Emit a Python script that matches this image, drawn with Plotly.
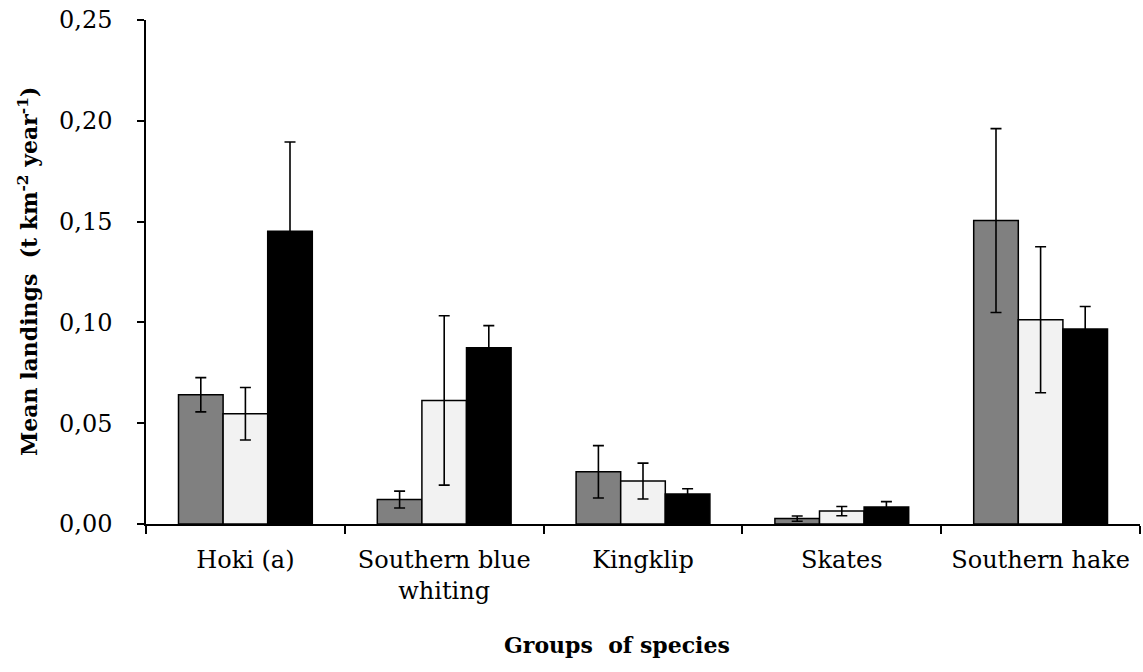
import plotly.graph_objects as go

categories = ["Hoki (a)", "Southern blue<br>whiting", "Kingklip", "Skates", "Southern hake"]

series_names = ["Series 1", "Series 2", "Series 3"]
values_1 = [0.0641, 0.0121, 0.0259, 0.0027, 0.1505]
errors_1 = [0.0085, 0.0042, 0.0130, 0.0013, 0.0456]
values_2 = [0.0547, 0.0613, 0.0213, 0.0064, 0.1013]
errors_2 = [0.0130, 0.0420, 0.0089, 0.0023, 0.0362]
values_3 = [0.1452, 0.0874, 0.0149, 0.0084, 0.0967]
errors_3 = [0.0443, 0.0110, 0.0026, 0.0027, 0.0112]

y_ticks = [0.0, 0.05, 0.10, 0.15, 0.20, 0.25]

colors = ["#808080", "#F2F2F2", "#000000"]
FONT = "DejaVu Serif"

fig = go.Figure()
for name, vals, errs, col in zip(series_names,
                                 [values_1, values_2, values_3],
                                 [errors_1, errors_2, errors_3],
                                 colors):
    fig.add_trace(go.Bar(
        x=categories, y=vals, name=name,
        marker=dict(color=col, line=dict(color="black", width=1.5)),
        error_y=dict(type="data", array=errs, visible=True,
                     color="black", thickness=1.6, width=5.5),
    ))

fig.update_layout(
    width=1143, height=672,
    margin=dict(l=146, r=3, t=20, b=148),
    paper_bgcolor="white", plot_bgcolor="white",
    barmode="group", bargap=0.327, bargroupgap=0,
    showlegend=False,
    separators=",.",
    font=dict(family=FONT, size=24, color="black"),
)

fig.update_xaxes(
    showline=True, linecolor="black", linewidth=1.5,
    ticks="outside", tickson="boundaries", ticklen=8, tickwidth=1.5, tickcolor="black",
    showgrid=False, ticklabelstandoff=13,
    tickfont=dict(family=FONT, size=24, color="black"),
)
fig.update_yaxes(
    range=[0, 0.25], tickvals=y_ticks, tickformat=".2f",
    showline=True, linecolor="black", linewidth=1.5,
    ticks="outside", ticklen=7, tickwidth=1.5, tickcolor="black",
    showgrid=False, zeroline=False, ticklabelstandoff=20,
    tickfont=dict(family=FONT, size=24, color="black"),
)

fig.add_annotation(
    text="<b>Mean landings  (t km<sup>-2</sup> year<sup>-1</sup>)</b>",
    xref="paper", yref="paper", x=-(146 - 28) / 994, y=0.5,
    xanchor="center", yanchor="middle", textangle=-90, showarrow=False,
    font=dict(family=FONT, size=22, color="black"),
)
fig.add_annotation(
    text="<b>Groups  of species</b>",
    xref="paper", yref="paper", x=(617 - 146) / 994, y=-(645 - 524) / 504,
    xanchor="center", yanchor="middle", showarrow=False,
    font=dict(family=FONT, size=22, color="black"),
)

fig.write_html("out.html")
